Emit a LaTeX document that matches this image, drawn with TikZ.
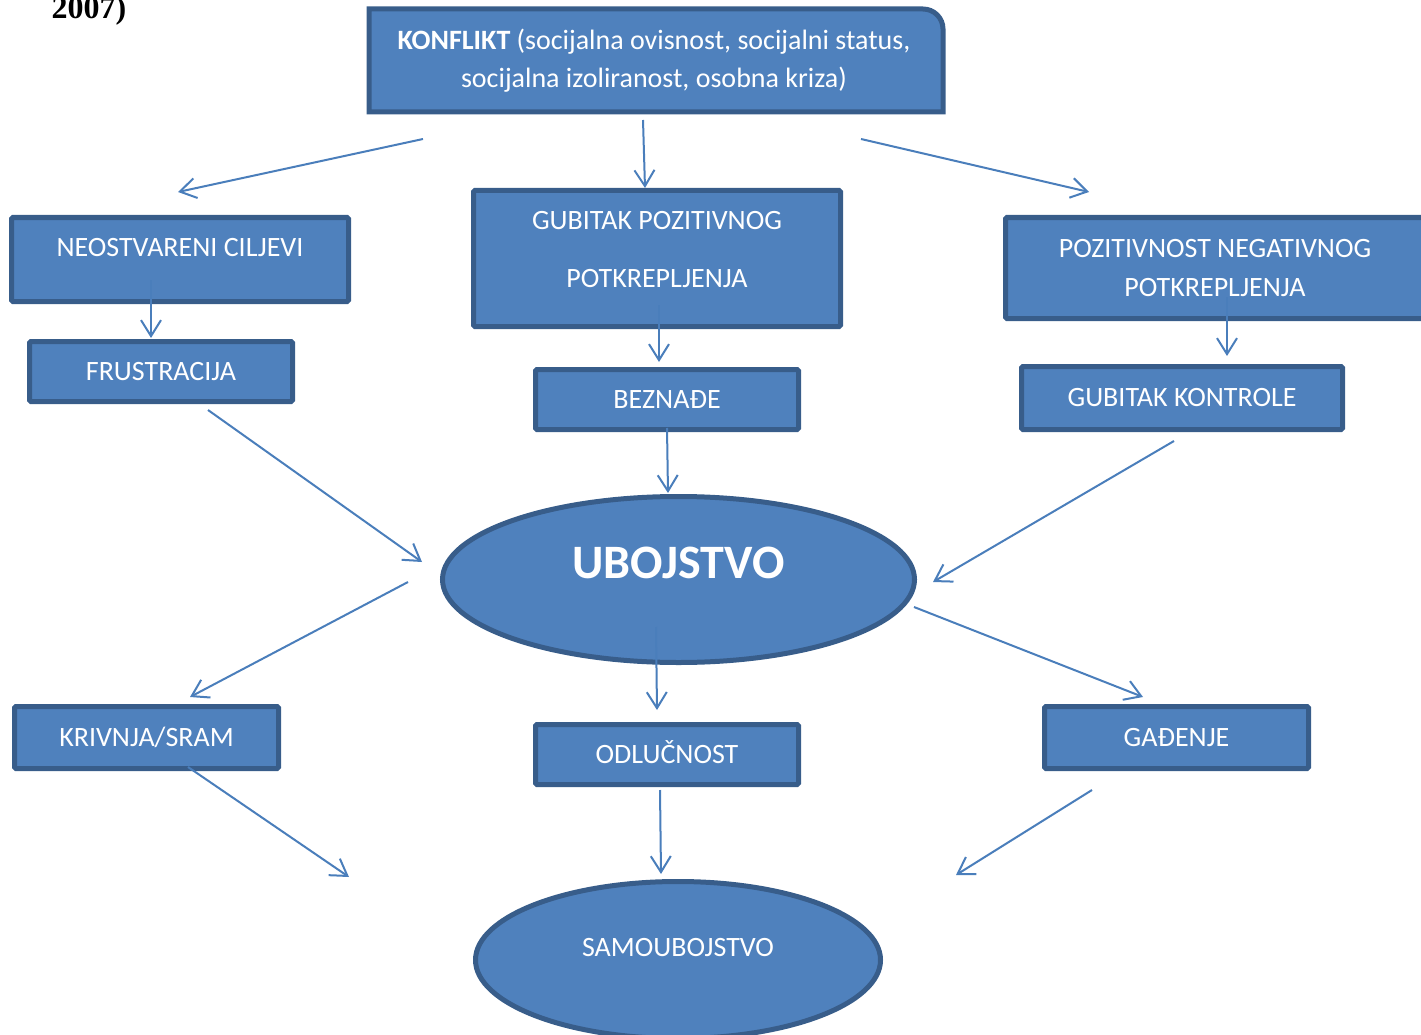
\documentclass[tikz,border=0pt]{standalone}
\usepackage{fontspec}
\setmainfont{Carlito}
\newfontfamily\serifb{Liberation Serif}
\usetikzlibrary{shapes.geometric,arrows.meta,backgrounds}

\definecolor{boxfill}{HTML}{4F81BD}
\definecolor{boxline}{HTML}{385D8A}
\definecolor{arrowc}{HTML}{4A7EBB}

\tikzset{
  box/.style={rectangle, draw=boxline, fill=boxfill, line width=5pt, inner sep=0pt,
    rounded corners=1.5pt, text=white, align=center,
    font=\fontsize{28}{39}\selectfont},
  oneline/.style={text height=17.7pt, text depth=0pt},
  oval/.style={ellipse, draw=boxline, fill=boxfill, line width=5pt, inner sep=0pt,
    text=white},
  flow/.style={draw=arrowc, line width=2pt, -{Straight Barb[length=16pt,width=20pt]}},
}

\begin{document}
\begin{tikzpicture}[x=1pt, y=-1pt]
  \useasboundingbox (0,0) rectangle (1421,1035);

  % Define nodes
  \node[anchor=base west, font=\serifb\bfseries\fontsize{32}{32}\selectfont] (year) at (48,19) {2007)};
  \node[box, draw=none, fill=none, minimum width=569pt, minimum height=98pt,
        font=\fontsize{28}{38.5}\selectfont] (konf) at (654,60.5)
        {\textbf{KONFLIKT} (socijalna ovisnost, socijalni status,\\socijalna izoliranost, osobna kriza)};
  \node[box, oneline, text depth=24pt, minimum width=337pt, minimum height=84pt] (neo) at (180,259.5) {NEOSTVARENI CILJEVI};
  \node[box, oneline, minimum width=263pt, minimum height=60pt] (frus) at (161,371.5) {FRUSTRACIJA};
  \node[box, minimum width=367pt, minimum height=136pt] (gpp) at (657,258.5)
        {GUBITAK POZITIVNOG\\[19pt]POTKREPLJENJA\rule[-19pt]{0pt}{0pt}};
  \node[box, oneline, minimum width=263pt, minimum height=60pt] (bez) at (667,399.5) {BEZNAĐE};
  \node[box, minimum width=419pt, minimum height=101pt] (pnp) at (1215,268) {POZITIVNOST NEGATIVNOG\\POTKREPLJENJA};
  \node[box, oneline, minimum width=321pt, minimum height=63pt] (gk) at (1182,398) {GUBITAK KONTROLE};
  \node[oval, minimum width=472pt, minimum height=166pt, text height=30.3pt, text depth=32pt,
        font=\bfseries\fontsize{48}{48}\selectfont] (ubo) at (678.5,579.5) {UBOJSTVO};
  \node[box, oneline, minimum width=264pt, minimum height=62pt] (kriv) at (146.5,737.5) {KRIVNJA/SRAM};
  \node[box, oneline, minimum width=263pt, minimum height=60pt] (odl) at (667,754.5) {ODLUČNOST};
  \node[box, oneline, minimum width=264pt, minimum height=62pt] (gad) at (1176.5,737.5) {GAĐENJE};
  \node[oval, minimum width=405pt, minimum height=157pt, text height=17.7pt, text depth=25pt,
        font=\fontsize{28}{33}\selectfont] (sam) at (678,960) {SAMOUBOJSTVO};

  % Konflikt box, one corner rounded
  \begin{scope}[on background layer]
    \filldraw[fill=boxfill, draw=boxline, line width=5pt]
      ([xshift=2pt]konf.south west) -- ([xshift=2pt]konf.north west) -- ([xshift=-18pt]konf.north east)
      arc[start angle=90, end angle=0, radius=20pt] -- ([xshift=2pt]konf.south east) -- cycle;
  \end{scope}

  % Arrow ends
  \coordinate (konf-l) at (423,139);  \coordinate (neo-t)  at (178,192);
  \coordinate (konf-m) at (643,120);  \coordinate (gpp-t)  at (645,188);
  \coordinate (konf-r) at (861,139);  \coordinate (pnp-t)  at (1089,192);
  \coordinate (neo-b)  at (151,280);  \coordinate (frus-t) at (151,338);
  \coordinate (gpp-b)  at (659,305);  \coordinate (bez-t)  at (659,362);
  \coordinate (pnp-b)  at (1227,297); \coordinate (gk-t)   at (1227,356);
  \coordinate (bez-b)  at (667,428);  \coordinate (ubo-t)  at (668,493);
  \coordinate (frus-b) at (208,410);  \coordinate (ubo-l)  at (422,562);
  \coordinate (gk-b)   at (1174,441); \coordinate (ubo-r)  at (933,582);
  \coordinate (ubo-wl) at (408,582);  \coordinate (kriv-t) at (190,697);
  \coordinate (ubo-b)  at (656,627);  \coordinate (odl-t)  at (657,710);
  \coordinate (ubo-wr) at (914,607);  \coordinate (gad-t)  at (1143,697);
  \coordinate (kriv-b) at (188,767);  \coordinate (sam-l)  at (349,877);
  \coordinate (odl-b)  at (660,790);  \coordinate (sam-t)  at (661,874);
  \coordinate (gad-b)  at (1092,790); \coordinate (sam-r)  at (956,875);

  % Connect the nodes
  \foreach \a/\b in {konf-l/neo-t, konf-m/gpp-t, konf-r/pnp-t, neo-b/frus-t,
                     gpp-b/bez-t, pnp-b/gk-t, bez-b/ubo-t, frus-b/ubo-l,
                     gk-b/ubo-r, ubo-wl/kriv-t, ubo-b/odl-t, ubo-wr/gad-t,
                     kriv-b/sam-l, odl-b/sam-t, gad-b/sam-r}
    \draw[flow] (\a) -- (\b);

\end{tikzpicture}
\end{document}
